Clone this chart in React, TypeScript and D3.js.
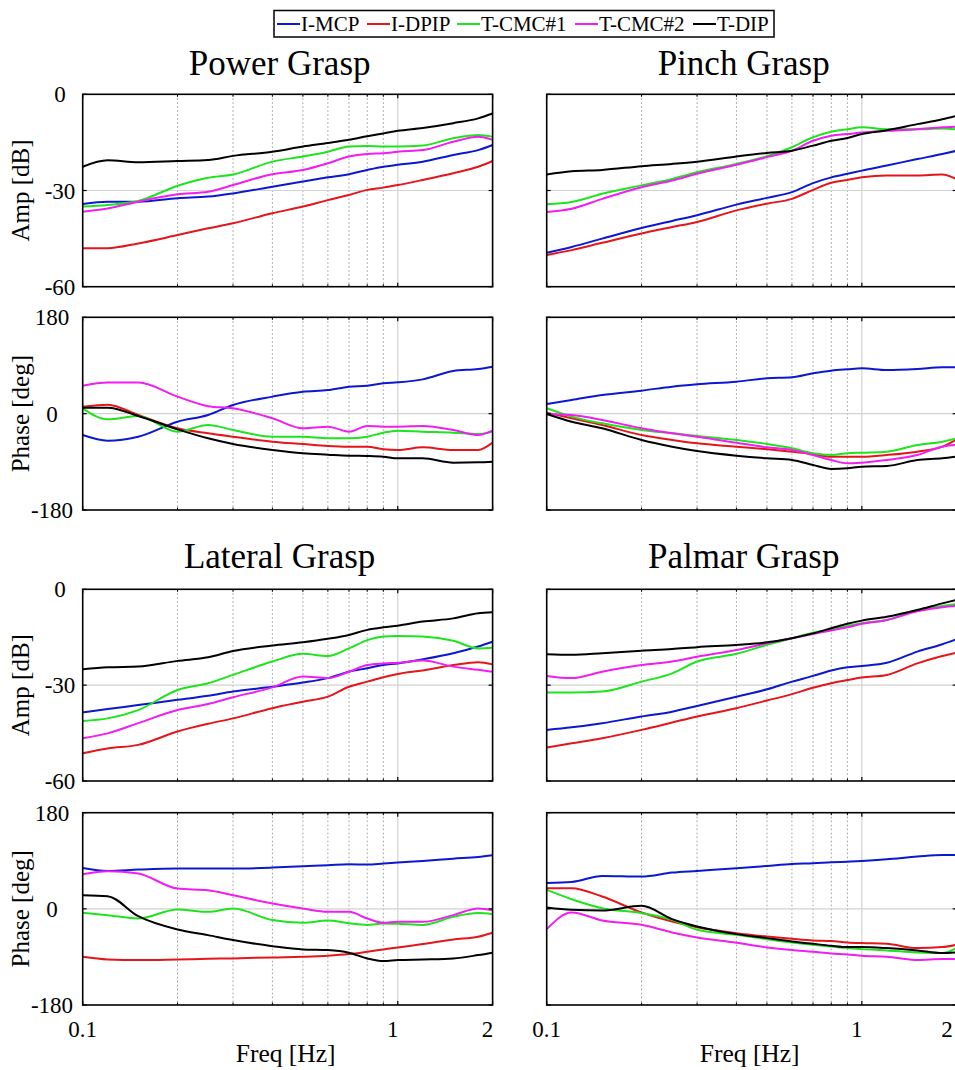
import React from 'react';
import * as d3 from 'd3';

// ---------- data ----------
const freqs = [0.1, 0.12, 0.15, 0.2, 0.25, 0.3, 0.4, 0.5, 0.6, 0.7, 0.8, 0.9, 1.0, 1.2, 1.5, 1.8, 2.0];

const seriesNames = ['I-MCP', 'I-DPIP', 'T-CMC#1', 'T-CMC#2', 'T-DIP'];
const seriesColors = ['#0c18d0', '#e4161c', '#1ee41e', '#f01ef0', '#000000'];

const titles = ['Power Grasp', 'Pinch Grasp', 'Lateral Grasp', 'Palmar Grasp'];

const ampTicks = [0, -30, -60];
const phaseTicks = [180, 0, -180];
const xTicks = [0.1, 1, 2];
const xMinor = [0.2, 0.3, 0.4, 0.5, 0.6, 0.7, 0.8, 0.9];

// order in each panel: I-MCP, I-DPIP, T-CMC#1, T-CMC#2, T-DIP
const powerAmp = [
  [-34.2, -33.5, -33.5, -32.4, -31.9, -30.9, -28.8, -27.2, -25.9, -24.9, -23.6, -22.6, -22.0, -21.0, -18.9, -17.4, -15.8],
  [-48.0, -48.0, -46.5, -43.9, -41.8, -40.2, -37.1, -35.0, -33.0, -31.4, -29.8, -29.1, -28.3, -26.7, -24.6, -22.6, -20.8],
  [-35.0, -34.5, -33.3, -28.5, -26.0, -25.0, -21.0, -19.4, -17.9, -16.3, -16.1, -16.3, -16.3, -16.0, -13.7, -12.7, -13.2],
  [-36.6, -35.6, -33.5, -31.2, -30.4, -28.3, -24.9, -23.6, -21.5, -19.4, -18.6, -18.4, -17.9, -17.4, -14.8, -13.2, -14.2],
  [-22.6, -20.6, -21.2, -20.8, -20.5, -19.2, -17.9, -16.3, -15.2, -14.2, -13.1, -12.2, -11.4, -10.5, -9.0, -7.5, -6.0],
];
const powerPhase = [
  [-39.9, -50.4, -43, -15, -2.5, 16.2, 31.8, 41, 44, 50.4, 52.3, 56.7, 58.5, 64, 79.7, 83.5, 87.8],
  [13, 16.8, -2.5, -27.4, -36.7, -43, -52.3, -56.7, -60.4, -61.7, -61.7, -66.6, -67.9, -62.9, -67.9, -67.9, -54.2],
  [10, -10.6, -4.4, -33.6, -21.2, -30.5, -43, -43, -46, -46, -43, -35.5, -31.8, -33.6, -35.5, -38, -33.6],
  [52.3, 58, 58, 31.8, 14, 10, -8.7, -27.4, -24.3, -33.6, -23, -24.3, -24.3, -23, -30.5, -39.9, -31.8],
  [11.2, 11.2, -4.4, -29.3, -46, -56.7, -67.9, -74.1, -76.6, -78.5, -79, -80.3, -83.5, -83.5, -91.5, -91, -89.7],
];

const pinchAmp = [
  [-49.4, -47.6, -45.0, -41.7, -39.5, -37.7, -34.4, -32.3, -30.5, -27.7, -25.9, -24.8, -23.8, -22.2, -20.2, -18.6, -17.6],
  [-50.1, -48.6, -46.3, -43.4, -41.4, -39.8, -36.2, -34.1, -32.6, -29.8, -27.6, -26.7, -25.9, -25.3, -25.3, -25.0, -26.5],
  [-34.3, -33.6, -31.0, -28.4, -26.4, -24.3, -21.7, -19.3, -16.5, -13.4, -11.7, -10.9, -10.3, -10.9, -10.9, -10.7, -10.9],
  [-36.7, -35.7, -32.6, -29.0, -26.9, -24.8, -22.0, -19.6, -17.6, -14.5, -12.9, -12.4, -11.9, -11.4, -10.9, -10.3, -10.1],
  [-25.0, -24.0, -23.6, -22.4, -21.7, -21.0, -19.4, -18.3, -17.6, -16.0, -14.5, -13.6, -12.4, -11.2, -9.3, -7.8, -6.7],
];
const pinchPhase = [
  [18.1, 25.5, 34.9, 43, 50.4, 54.8, 59.8, 66, 67.9, 75.4, 80.3, 82.8, 84.7, 81.6, 83.5, 86.6, 86.6],
  [1.9, -8.7, -21.2, -39.9, -49.2, -55.4, -61.7, -66.6, -71, -75.4, -80.3, -80.3, -80.3, -77.2, -71, -61.7, -48],
  [10, -5.6, -18.1, -30.5, -36.7, -41.7, -49.2, -56.7, -64.8, -74.1, -77.2, -74.1, -72.9, -71, -58.5, -52.3, -46],
  [-0.6, -2.5, -11.8, -27.4, -36.7, -43, -54.2, -62.9, -67.9, -77.2, -86.6, -92.8, -91.5, -86.6, -77.2, -61.7, -58.5],
  [-0.6, -15, -27.4, -49.2, -61.7, -69.8, -78.5, -83.5, -86.6, -95.9, -103.4, -102, -99, -97.8, -86.6, -83.5, -80.3],
];

const lateralAmp = [
  [-38.5, -37.5, -36.2, -34.6, -33.3, -32.0, -30.5, -29.2, -27.8, -25.8, -24.7, -23.7, -23.2, -21.9, -20.0, -17.9, -16.4],
  [-51.3, -49.8, -48.7, -44.5, -42.1, -40.4, -37.2, -35.2, -33.6, -30.5, -28.9, -27.5, -26.5, -25.4, -23.7, -22.8, -23.5],
  [-41.2, -40.4, -37.8, -31.5, -29.4, -26.8, -22.6, -20.2, -20.9, -18.5, -15.9, -14.8, -14.6, -14.8, -16.1, -18.5, -18.3],
  [-46.6, -45.1, -41.9, -37.8, -35.9, -33.8, -30.7, -27.3, -27.8, -25.8, -23.7, -23.2, -23.0, -22.3, -24.2, -25.2, -25.8],
  [-25.0, -24.4, -24.2, -22.4, -21.3, -19.3, -17.6, -16.6, -15.5, -14.3, -12.7, -11.9, -11.4, -10.1, -9.1, -7.5, -7.2],
];
const lateralPhase = [
  [76.6, 71, 73.5, 75.4, 75.4, 75.4, 77.2, 79.7, 81.6, 83.5, 82.8, 84.7, 86.6, 89.7, 94, 97.2, 100.3],
  [-89.7, -94.7, -95.9, -94.7, -93.5, -92.8, -90.9, -89.7, -87.8, -84.7, -80.3, -76, -72.2, -66, -57.3, -52.3, -44.8],
  [-7.5, -11.8, -18.1, -1.2, -5.6, 0.6, -21, -26, -22, -27, -30, -27.4, -28, -30, -15, -8, -10],
  [64.8, 70.4, 66, 38, 34.9, 25.5, 10, 0.6, -5.6, -5.6, -18.1, -26.2, -24.3, -24.3, -11.8, 0.6, -2.5],
  [25.5, 23.7, -13.7, -38.6, -49.2, -58.5, -69.8, -76, -77.2, -82, -92.8, -97.8, -95.9, -94.7, -92.8, -86.6, -82.2],
];

const palmarAmp = [
  [-44.0, -43.2, -41.9, -39.8, -38.3, -36.5, -33.6, -31.3, -28.9, -27.1, -25.4, -24.4, -24.0, -23.0, -19.5, -17.2, -15.6],
  [-49.5, -48.2, -46.6, -44.0, -41.7, -39.8, -37.2, -34.8, -32.8, -30.8, -29.4, -28.4, -27.6, -26.8, -23.2, -20.9, -19.8],
  [-32.3, -32.3, -32.0, -28.9, -26.3, -22.6, -20.2, -17.4, -15.3, -13.6, -12.5, -11.5, -10.6, -9.6, -6.5, -5.2, -4.6],
  [-27.1, -27.8, -25.8, -23.7, -22.6, -21.1, -19.0, -16.9, -15.3, -14.0, -12.9, -11.9, -10.8, -9.6, -6.9, -5.6, -5.2],
  [-20.3, -20.5, -20.0, -19.2, -18.7, -18.1, -17.4, -16.6, -15.3, -13.8, -12.2, -10.8, -9.8, -8.6, -6.5, -4.4, -3.3],
];
const palmarPhase = [
  [48.6, 50.4, 61.7, 60.5, 67.9, 71, 75.9, 80.3, 84, 85.3, 87.2, 88.4, 89.7, 92.8, 97.8, 100.9, 100.9],
  [38.6, 38.6, 23, -6.8, -23.7, -34.3, -45.5, -51.7, -56, -59.2, -60.4, -62.9, -64.1, -65.4, -73.5, -71.6, -67.3],
  [35.5, 18.1, 1.2, -8.1, -20.5, -39.2, -48.6, -56.7, -62.9, -67.3, -70.4, -73.5, -75.4, -77.8, -81.6, -82.8, -73.5],
  [-38, -6.8, -21.8, -29.9, -44.2, -53.6, -63.5, -72.2, -77.2, -80.3, -83.5, -85.3, -87.8, -89.7, -95.9, -94.1, -94.1],
  [2.5, -1.9, -3.1, 5.6, -19.3, -33, -47.3, -54.8, -61, -65.4, -69.1, -71.6, -71.6, -73.5, -77.8, -82.8, -81.6],
];

const ampSets = [powerAmp, pinchAmp, lateralAmp, palmarAmp];
const phaseSets = [powerPhase, pinchPhase, lateralPhase, palmarPhase];

// ---------- layout ----------
const W = 955;
const H = 1070;
const FONT = "'Liberation Serif', 'Times New Roman', serif";
const colX: [number, number][] = [[82.7, 492.6], [546.7, 956.7]];
const rowY = [
  { amp: [94.3, 286.7], phase: [317.3, 510], title: 75 },
  { amp: [589.3, 781], phase: [812.7, 1005], title: 568 },
];
const legendItemX = [277, 367, 457, 575, 693];

const lineGen = (x: d3.ScaleLogarithmic<number, number>, y: d3.ScaleLinear<number, number>) =>
  d3.line<number>().x((_, i) => x(freqs[i])).y((d) => y(d)).curve(d3.curveMonotoneX);

function Panel({ id, col, yr, domain, ticks, data, label, showX }: any) {
  const [x0, x1] = colX[col];
  const [y0, y1] = yr;
  const x = d3.scaleLog().domain([0.1, 2]).range([x0, x1]);
  const y = d3.scaleLinear().domain(domain).range([y1, y0]);
  const gen = lineGen(x, y);
  const mid = (domain[0] + domain[1]) / 2;
  return (
    <g>
      <defs>
        <clipPath id={id}>
          <rect x={x0} y={y0} width={x1 - x0} height={y1 - y0} />
        </clipPath>
      </defs>
      {/* grid */}
      {xMinor.map((f) => (
        <line key={'m' + f} x1={x(f)} x2={x(f)} y1={y0} y2={y1} stroke="#9a9a9a" strokeWidth={1} strokeDasharray="1.5,2.5" />
      ))}
      <line x1={x(1)} x2={x(1)} y1={y0} y2={y1} stroke="#d2d2d2" strokeWidth={1.2} />
      <line x1={x0} x2={x1} y1={y(mid)} y2={y(mid)} stroke="#d2d2d2" strokeWidth={1.2} />
      {/* data */}
      <g clipPath={`url(#${id})`}>
        {data.map((s: number[], i: number) => (
          <path key={i} d={gen(s) || ''} fill="none" stroke={seriesColors[i]} strokeWidth={2} strokeLinejoin="round" />
        ))}
      </g>
      {/* ticks */}
      {ticks.map((t: number) => (
        <g key={'yt' + t}>
          <line x1={x0} x2={x0 + 4} y1={y(t)} y2={y(t)} stroke="#000" strokeWidth={1.2} />
          <line x1={x1} x2={x1 - 4} y1={y(t)} y2={y(t)} stroke="#000" strokeWidth={1.2} />
        </g>
      ))}
      {xTicks.map((t) => (
        <g key={'xt' + t}>
          <line x1={x(t)} x2={x(t)} y1={y1} y2={y1 - 4} stroke="#000" strokeWidth={1.2} />
          <line x1={x(t)} x2={x(t)} y1={y0} y2={y0 + 4} stroke="#000" strokeWidth={1.2} />
        </g>
      ))}
      {xMinor.map((t) => (
        <g key={'xm' + t}>
          <line x1={x(t)} x2={x(t)} y1={y1} y2={y1 - 2.5} stroke="#000" strokeWidth={1} />
          <line x1={x(t)} x2={x(t)} y1={y0} y2={y0 + 2.5} stroke="#000" strokeWidth={1} />
        </g>
      ))}
      <rect x={x0} y={y0} width={x1 - x0} height={y1 - y0} fill="none" stroke="#000" strokeWidth={1.6} />
      {/* y tick labels & label (left column only) */}
      {col === 0 &&
        ticks.map((t: number) => (
          <text key={'yl' + t} x={label === 'Amp [dB]' ? 60 : 52} y={y(t) + 8} textAnchor="middle" fontSize={23} fontFamily={FONT}>
            {t}
          </text>
        ))}
      {col === 0 && (
        <text transform={`translate(29,${(y0 + y1) / 2}) rotate(-90)`} textAnchor="middle" fontSize={25} fontFamily={FONT}>
          {label}
        </text>
      )}
      {showX &&
        xTicks.map((t) => (
          <text key={'xl' + t} x={Math.min(x(t) - (t === 0.1 ? 0 : 5), W - 8)} y={1037} textAnchor="middle" fontSize={23} fontFamily={FONT}>
            {t}
          </text>
        ))}
      {showX && (
        <text x={(x0 + x1) / 2 - 2} y={1062} textAnchor="middle" fontSize={25.5} fontFamily={FONT}>
          Freq [Hz]
        </text>
      )}
    </g>
  );
}

export default function App() {
  return (
    <svg width={W} height={H} style={{ position: 'absolute', left: 0, top: 0, background: '#fff' }}>
      <rect x={0} y={0} width={W} height={H} fill="#fff" />
      {/* legend */}
      <rect x={274} y={10.5} width={500} height={26.5} fill="#fff" stroke="#000" strokeWidth={1.5} />
      {seriesNames.map((n, i) => (
        <g key={n}>
          <line x1={legendItemX[i]} x2={legendItemX[i] + 23} y1={24} y2={24} stroke={seriesColors[i]} strokeWidth={2} />
          <text x={legendItemX[i] + 24} y={31} fontSize={21} fontFamily={FONT}>
            {n}
          </text>
        </g>
      ))}
      {titles.map((t, k) => {
        const col = k % 2;
        const row = Math.floor(k / 2);
        const r = rowY[row];
        const cx = (colX[col][0] + colX[col][1]) / 2 - 8;
        return (
          <g key={t}>
            <text x={cx} y={r.title} textAnchor="middle" fontSize={35} fontFamily={FONT}>
              {t}
            </text>
            <Panel id={`ca${k}`} col={col} yr={r.amp} domain={[-60, 0]} ticks={ampTicks} data={ampSets[k]} label="Amp [dB]" showX={false} />
            <Panel id={`cp${k}`} col={col} yr={r.phase} domain={[-180, 180]} ticks={phaseTicks} data={phaseSets[k]} label="Phase [deg]" showX={row === 1} />
          </g>
        );
      })}
    </svg>
  );
}
